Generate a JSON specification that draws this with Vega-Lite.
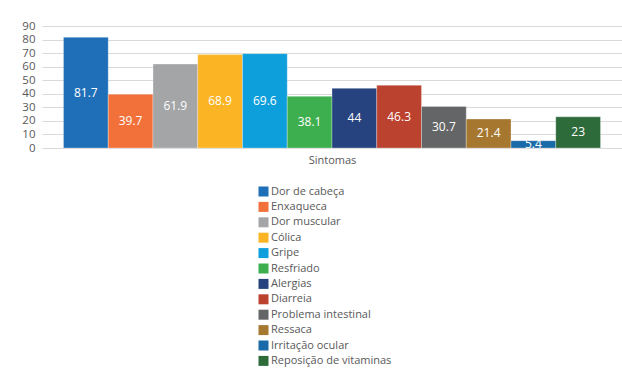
{
  "$schema": "https://vega.github.io/schema/vega-lite/v6.json",
  "width": 580,
  "height": 122,
  "autosize": {"type": "none"},
  "padding": {"left": 42, "top": 26, "right": 0, "bottom": 226},
  "background": "white",
  "config": {
    "font": "Open Sans",
    "view": {"stroke": null},
    "axis": {"labelColor": "#595959", "titleColor": "#595959", "labelFont": "Open Sans", "titleFont": "Open Sans"}
  },
  "data": {
    "values": [
      {"sintoma": "Dor de cabeça", "valor": 81.7},
      {"sintoma": "Enxaqueca", "valor": 39.7},
      {"sintoma": "Dor muscular", "valor": 61.9},
      {"sintoma": "Cólica", "valor": 68.9},
      {"sintoma": "Gripe", "valor": 69.6},
      {"sintoma": "Resfriado", "valor": 38.1},
      {"sintoma": "Alergias", "valor": 44},
      {"sintoma": "Diarreia", "valor": 46.3},
      {"sintoma": "Problema intestinal", "valor": 30.7},
      {"sintoma": "Ressaca", "valor": 21.4},
      {"sintoma": "Irritação ocular", "valor": 5.4},
      {"sintoma": "Reposição de vitaminas", "valor": 23}
    ]
  },
  "encoding": {
    "x": {
      "field": "sintoma",
      "type": "nominal",
      "sort": null,
      "scale": {"paddingInner": 0, "paddingOuter": 0.48},
      "axis": {"labels": false, "ticks": false, "domain": false, "title": "Sintomas", "titleFontSize": 11, "titleFontWeight": "normal", "titlePadding": 6}
    }
  },
  "layer": [
    {
      "mark": {"type": "bar", "stroke": "white", "strokeWidth": 0.5, "strokeOpacity": 0.6},
      "encoding": {
        "y": {
          "field": "valor",
          "type": "quantitative",
          "scale": {"domain": [0, 90], "nice": false},
          "axis": {"values": [0, 10, 20, 30, 40, 50, 60, 70, 80, 90], "title": null, "domain": false, "ticks": false, "labelFontSize": 11.5, "labelPadding": 7, "gridColor": "#d9d9d9", "gridWidth": 1}
        },
        "color": {
          "field": "sintoma",
          "type": "nominal",
          "sort": null,
          "scale": {
            "domain": ["Dor de cabeça", "Enxaqueca", "Dor muscular", "Cólica", "Gripe", "Resfriado", "Alergias", "Diarreia", "Problema intestinal", "Ressaca", "Irritação ocular", "Reposição de vitaminas"],
            "range": ["#1f6fb8", "#f2713a", "#a3a5a6", "#fbb424", "#0c9fdc", "#3daf4f", "#26437f", "#bb422e", "#646566", "#a6772f", "#196aa8", "#2e6b3b"]
          },
          "legend": {
            "orient": "none",
            "legendX": 216,
            "legendY": 160,
            "direction": "vertical",
            "title": null,
            "symbolType": "square",
            "symbolSize": 100,
            "symbolStrokeWidth": 0,
            "labelFontSize": 11,
            "labelColor": "#595959",
            "labelOffset": 2,
            "rowPadding": 3.4,
            "labelFont": "Open Sans"
          }
        }
      }
    },
    {
      "mark": {"type": "text", "color": "white", "fontSize": 12, "fontWeight": 500, "font": "Open Sans", "baseline": "middle", "align": "center"},
      "encoding": {
        "y": {"field": "valor", "type": "quantitative", "scale": {"domain": [0, 180], "nice": false}, "axis": null},
        "text": {"field": "valor", "type": "quantitative"}
      }
    }
  ],
  "resolve": {"scale": {"y": "independent"}}
}
